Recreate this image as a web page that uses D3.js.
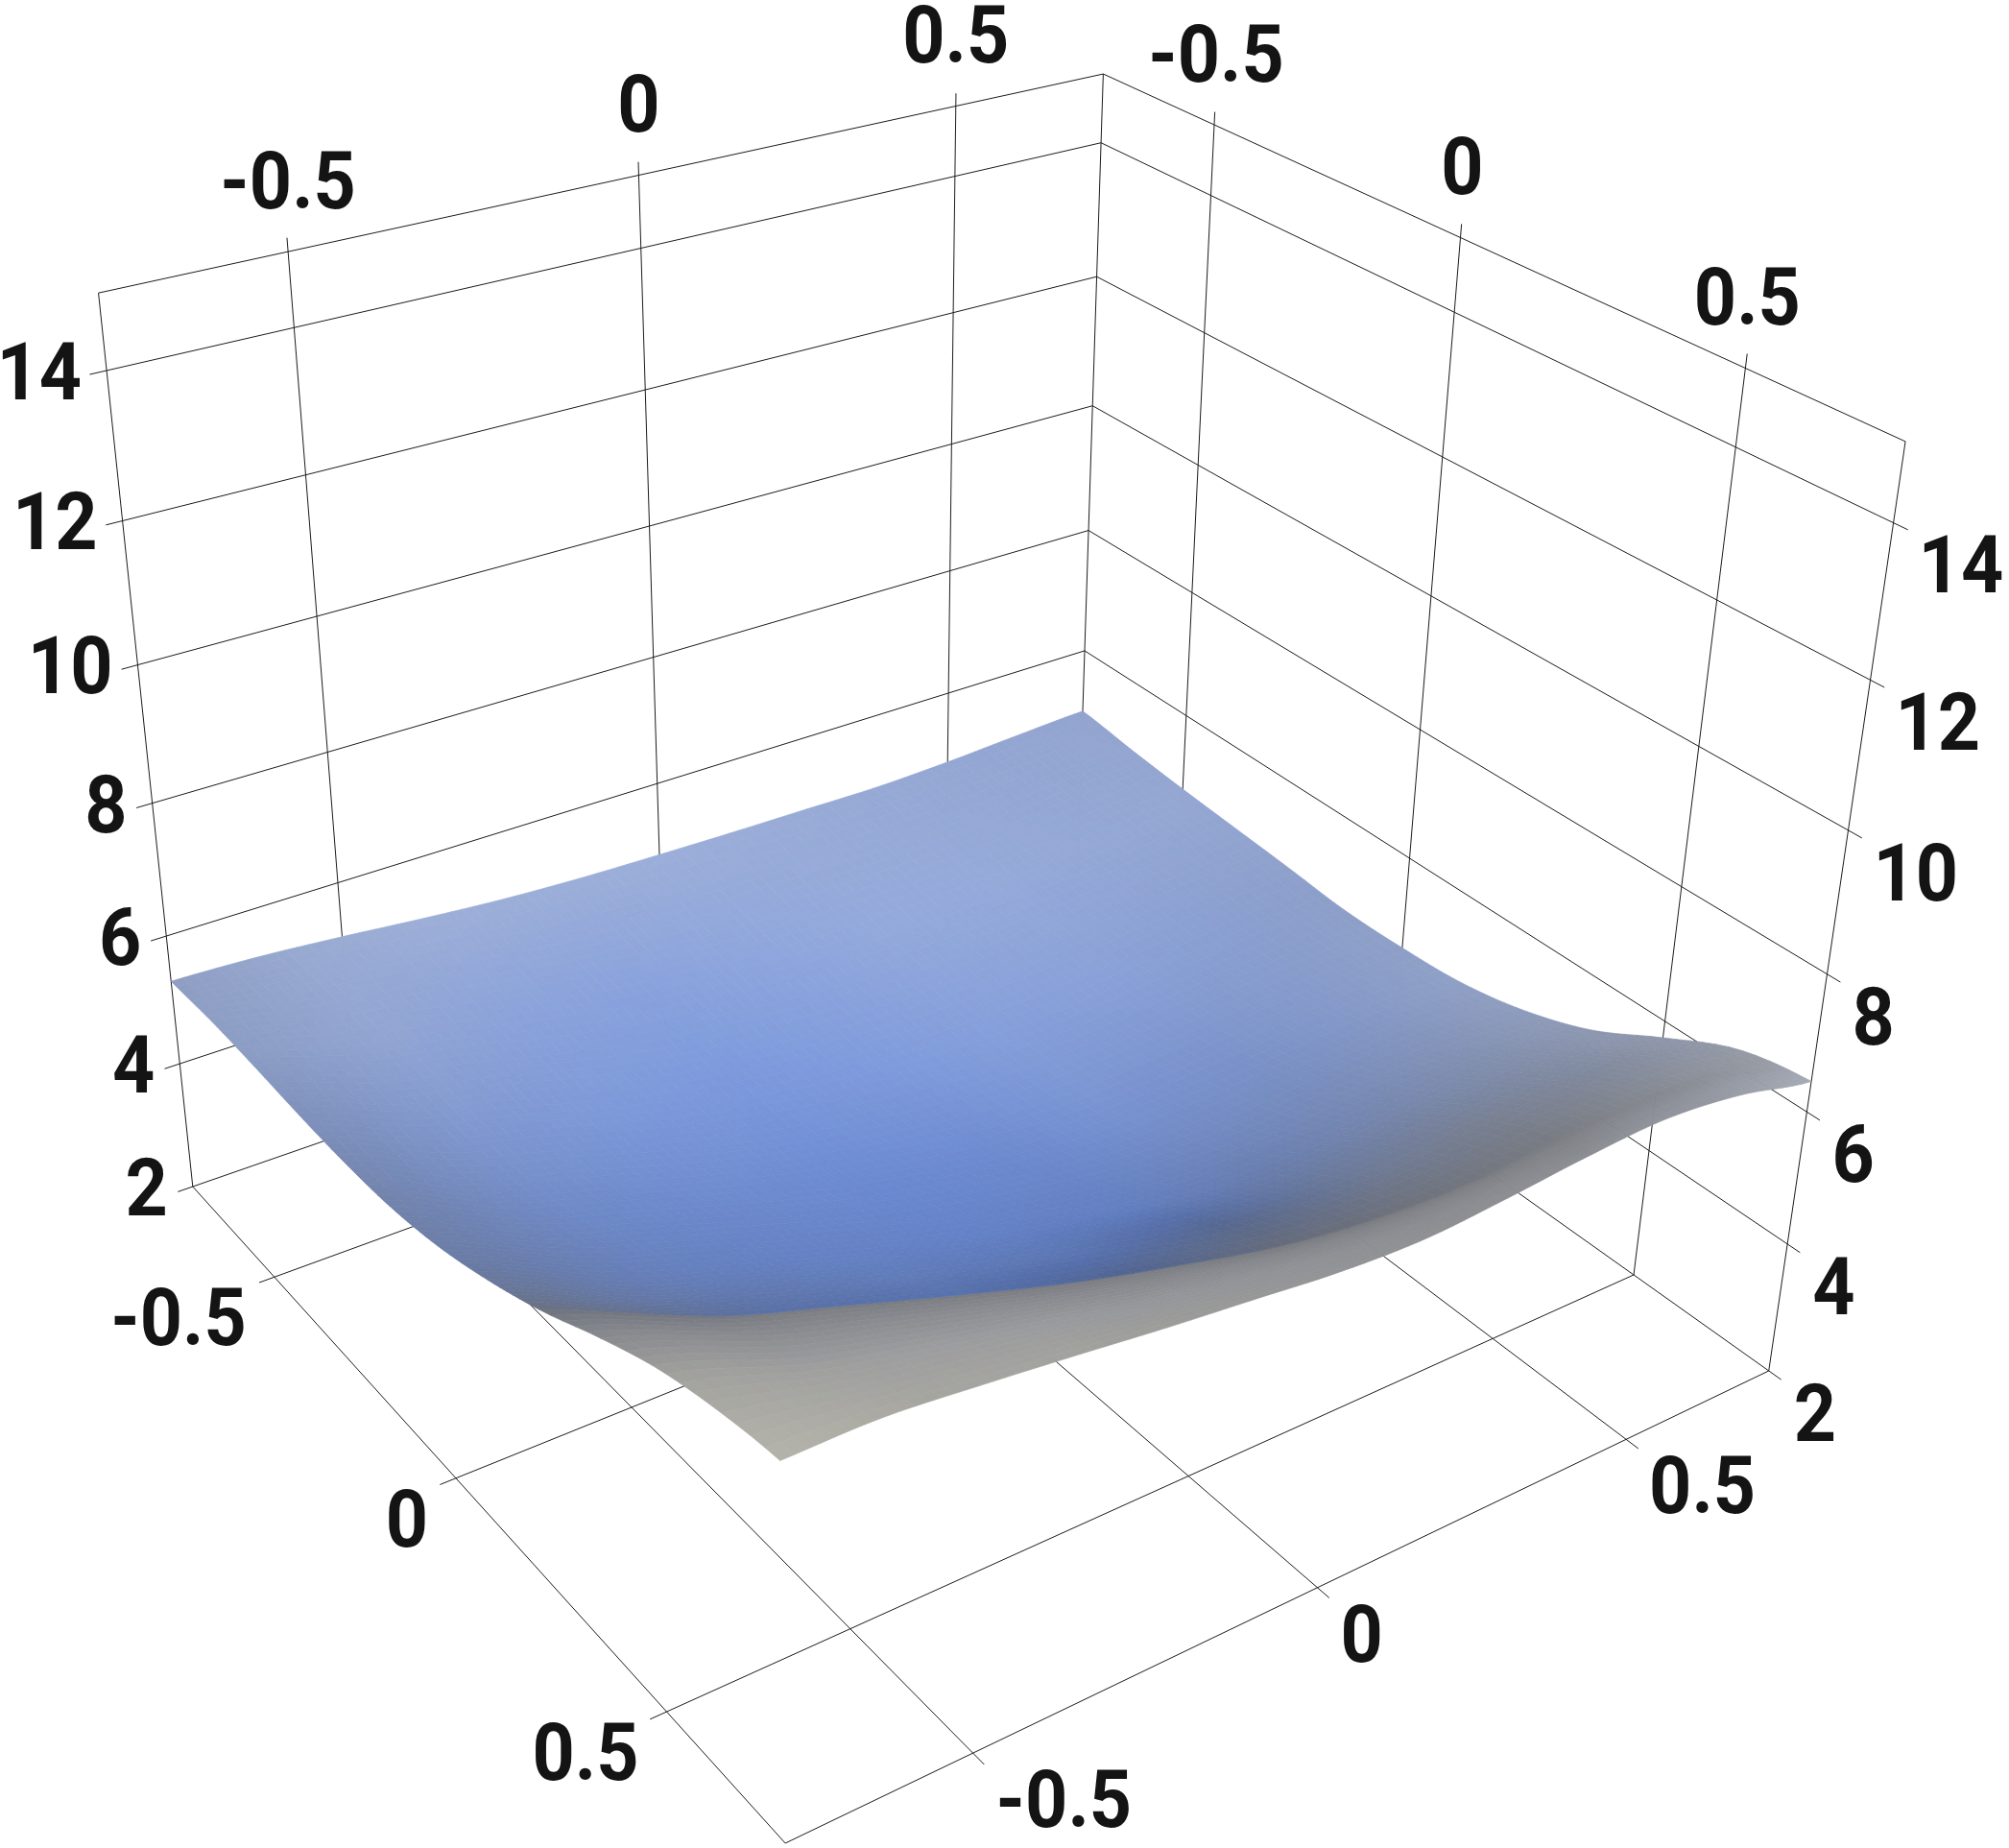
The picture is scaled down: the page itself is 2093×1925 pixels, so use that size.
<!DOCTYPE html>
<html>
<head>
<meta charset="utf-8">
<script src="https://cdn.jsdelivr.net/npm/d3@7"></script>
<style>
  body { margin: 0; background: #fff; }
  text { font-family: Roboto, sans-serif; font-weight: 700; font-size: 84px; fill: #141414; }
</style>
</head>
<body>
<svg id="chart" width="2093" height="1925"></svg>
<script>
var xTicks = [-0.5, 0, 0.5];
var yTicks = [-0.5, 0, 0.5];
var zTicks = [2, 4, 6, 8, 10, 12, 14];
var xyDomain = [-0.75, 0.75];
var zDomain = [2, 15];

// surface height, rows along x, columns along y, step 0.125
var heights = [
  [5.30, 5.25, 5.15, 5.03, 4.93, 4.87, 4.84, 4.82, 4.81, 4.80, 4.84, 4.91, 4.97],
  [5.33, 5.23, 5.13, 4.93, 4.79, 4.73, 4.68, 4.66, 4.66, 4.67, 4.73, 4.80, 4.86],
  [5.31, 5.19, 5.06, 4.84, 4.68, 4.60, 4.53, 4.51, 4.53, 4.56, 4.63, 4.71, 4.77],
  [5.27, 5.12, 4.96, 4.73, 4.56, 4.47, 4.40, 4.37, 4.42, 4.46, 4.55, 4.63, 4.70],
  [5.26, 5.10, 4.92, 4.68, 4.50, 4.39, 4.31, 4.27, 4.34, 4.39, 4.50, 4.57, 4.63],
  [5.31, 5.14, 4.94, 4.69, 4.49, 4.36, 4.27, 4.22, 4.29, 4.36, 4.46, 4.52, 4.55],
  [5.47, 5.32, 5.09, 4.83, 4.62, 4.47, 4.35, 4.29, 4.37, 4.43, 4.53, 4.56, 4.56],
  [5.74, 5.59, 5.35, 5.08, 4.85, 4.68, 4.55, 4.46, 4.54, 4.60, 4.68, 4.68, 4.63],
  [6.09, 5.90, 5.66, 5.39, 5.16, 4.98, 4.84, 4.75, 4.80, 4.87, 4.95, 4.93, 4.84],
  [6.52, 6.39, 6.14, 5.88, 5.65, 5.47, 5.31, 5.22, 5.25, 5.32, 5.39, 5.34, 5.20],
  [6.90, 6.83, 6.62, 6.39, 6.18, 6.01, 5.86, 5.79, 5.84, 5.93, 5.98, 5.92, 5.75],
  [7.15, 7.10, 6.94, 6.77, 6.60, 6.46, 6.32, 6.27, 6.35, 6.45, 6.53, 6.45, 6.25],
  [7.30, 7.30, 7.18, 7.04, 6.89, 6.76, 6.63, 6.58, 6.66, 6.77, 6.83, 6.71, 6.45]
];

// x where the blue side turns over into the grey side, per y column
var foldX = [0.24, 0.42, 0.48, 0.53, 0.58, 0.62, 0.65, 0.67, 0.69, 0.69, 0.69, 0.68, 0.68];

// colour fields: rows run across a side, columns along y (9 columns)
var topRows = [0, 0.2, 0.4, 0.6, 0.8, 0.92, 1];
var topTint = [
  [30, 38, 42, 44, 44, 43, 42, 41, 38],
  [32, 42, 52, 55, 54, 50, 48, 44, 40],
  [30, 46, 54, 58, 57, 54, 50, 44, 36],
  [25, 44, 50, 52, 51, 48, 42, 38, 32],
  [24, 40, 44, 46, 42, 30, 25, 20, 18],
  [18, 32, 38, 36, 25, 15, 10, 13, 12],
  [10, 30, 34, 28, 9, 5, 4, 6, 6]
];
var topShade = [
  [66, 71, 73, 73, 73, 72, 71, 70, 69],
  [66, 70, 70, 70, 71, 72, 72, 71, 70],
  [61, 66, 67, 67, 68, 69, 69, 68, 67],
  [56, 61, 62, 62, 62, 64, 63, 65, 67],
  [53, 57, 58, 58, 57, 55, 57, 59, 62],
  [50, 53, 55, 53, 45, 50, 52, 56, 61],
  [46, 50, 51, 44, 44, 46, 49, 56, 62]
];
var underRows = [0, 0.25, 0.6, 1];
var underTint = [
  [6, 3, 3, 3, 3, 3, 3, 4, 6],
  [3, 3, 3, 3, 3, 3, 3, 5, 8],
  [-2, 1, 2, 3, 3, 3, 3, 6, 10],
  [-6, -3, -2, -1, 2, 2, 4, 6, 10]
];
var underShade = [
  [46, 49, 49, 49, 48, 48, 48, 54, 62],
  [54, 55, 55, 54, 53, 52, 51, 55, 63],
  [63, 62, 61, 59, 57, 55, 53, 58, 66],
  [69, 64, 63, 60, 58, 56, 56, 60, 68]
];

// camera fitted to the box corners, in unit cube coordinates
var camera = [
  452.78813, 1081.93093, -110.88956, 200.80497,
  297.84662, -188.99051, -968.50317, 1236.03160,
  -0.20111, 0.14293, -0.12339
];

var xScale = d3.scaleLinear().domain(xyDomain).range([0, 1]);
var yScale = d3.scaleLinear().domain(xyDomain).range([0, 1]);
var zScale = d3.scaleLinear().domain(zDomain).range([0, 1]);
var satScale = d3.scaleLinear().domain([0, 100]).range([0, 1]);
var lightScale = d3.scaleLinear().domain([0, 100]).range([0, 1]);

function project(x, y, z) {
  var u = xScale(x), v = yScale(y), w = zScale(z), c = camera;
  var d = c[8] * u + c[9] * v + c[10] * w + 1;
  return [
    (c[0] * u + c[1] * v + c[2] * w + c[3]) / d,
    (c[4] * u + c[5] * v + c[6] * w + c[7]) / d
  ];
}

function catmull(a, b, c, d, t) {
  return 0.5 * (2 * b + (c - a) * t + (2 * a - 5 * b + 4 * c - d) * t * t + (3 * b - a - 3 * c + d) * t * t * t);
}

function smooth1d(values, pos) {
  var n = values.length - 1;
  var i = Math.min(n - 1, Math.floor(pos)), t = pos - i;
  var at = function (k) { return values[Math.max(0, Math.min(n, k))]; };
  return catmull(at(i - 1), at(i), at(i + 1), at(i + 2), t);
}

var nodeIndex = d3.scaleLinear().domain(xyDomain).range([0, heights.length - 1]);

function heightAt(x, y) {
  var px = nodeIndex(x), py = nodeIndex(y);
  var n = heights.length - 1;
  var i = Math.min(n - 1, Math.floor(px));
  var col = [i - 1, i, i + 1, i + 2].map(function (k) {
    return smooth1d(heights[Math.max(0, Math.min(n, k))], py);
  });
  return catmull(col[0], col[1], col[2], col[3], px - i);
}

function foldAt(y) {
  return smooth1d(foldX, nodeIndex(y));
}

// bilinear lookup in a colour field
function fieldAt(field, rows, s, y) {
  var r = Math.min(rows.length - 2, d3.bisectRight(rows, s) - 1);
  var t = (s - rows[r]) / (rows[r + 1] - rows[r]);
  var cols = field[0].length - 1;
  var p = yScale(y) * cols, j = Math.min(cols - 1, Math.floor(p)), f = p - j;
  var a = field[r][j] * (1 - f) + field[r][j + 1] * f;
  var b = field[r + 1][j] * (1 - f) + field[r + 1][j + 1] * f;
  return a * (1 - t) + b * t;
}

function toneColor(tint, shade) {
  // negative tint is the warm grey near the front corner
  return d3.hsl(tint < 0 ? 55 : 222, satScale(Math.abs(tint)), lightScale(shade)).formatHex();
}

var svg = d3.select("#chart");
var grid = svg.append("g").attr("fill", "none").attr("stroke", "#1c1c1c").attr("stroke-width", 1);
var lineGen = d3.line();

function gridLine(a, b) {
  grid.append("path").attr("d", lineGen([project(a[0], a[1], a[2]), project(b[0], b[1], b[2])]));
}

var lo = xyDomain[0], hi = xyDomain[1], zLo = zDomain[0], zHi = zDomain[1];
var stub = 0.022, zStub = 0.18;

// box frame
gridLine([lo, lo, zLo], [lo, lo, zHi]);
gridLine([lo, hi, zLo], [lo, hi, zHi]);
gridLine([hi, hi, zLo], [hi, hi, zHi]);
gridLine([lo, lo, zHi], [lo, hi, zHi]);
gridLine([lo, hi, zHi], [hi, hi, zHi]);
gridLine([lo, lo, zLo], [hi, lo, zLo]);
gridLine([hi, lo, zLo], [hi, hi, zLo]);

zTicks.forEach(function (z) {
  gridLine([lo, lo - stub, z], [lo, hi, z]);
  gridLine([lo, hi, z], [hi + stub, hi, z]);
});
yTicks.forEach(function (y) {
  gridLine([lo, y, zLo], [lo, y, zHi + zStub]);
  gridLine([lo, y, zLo], [hi + stub, y, zLo]);
});
xTicks.forEach(function (x) {
  gridLine([x, hi, zLo], [x, hi, zHi + zStub]);
  gridLine([x, lo - stub, zLo], [x, hi, zLo]);
});

// surface, drawn as two sides that meet along the fold
var colsN = 90;
var cells = [];

function addSide(rowsN, xOf, tint, shade, rows) {
  d3.range(rowsN).forEach(function (i) {
    d3.range(colsN).forEach(function (j) {
      var s0 = i / rowsN, s1 = (i + 1) / rowsN;
      var y0 = lo + (hi - lo) * j / colsN, y1 = lo + (hi - lo) * (j + 1) / colsN;
      var corners = [[s0, y0], [s1, y0], [s1, y1], [s0, y1]].map(function (q) {
        var x = xOf(q[0], q[1]);
        return project(x, q[1], heightAt(x, q[1]));
      });
      var sm = (s0 + s1) / 2, ym = (y0 + y1) / 2;
      cells.push({
        corners: corners,
        color: toneColor(fieldAt(tint, rows, sm, ym), fieldAt(shade, rows, sm, ym))
      });
    });
  });
}

addSide(18, function (s, y) { var f = foldAt(y); return f + s * (hi - f); }, underTint, underShade, underRows);
addSide(64, function (s, y) { return lo + s * (foldAt(y) - lo); }, topTint, topShade, topRows);

svg.append("g").selectAll("path")
  .data(cells)
  .join("path")
  .attr("d", function (d) { return lineGen(d.corners) + "Z"; })
  .attr("fill", function (d) { return d.color; })
  .attr("stroke", function (d) { return d.color; })
  .attr("stroke-width", 0.7);

// tick labels, squeezed a little to the narrower digits of the reference
function addLabels(values, pointOf, dx, dy, anchor) {
  svg.append("g").selectAll("text")
    .data(values)
    .join("text")
    .attr("transform", function (d) {
      var p = pointOf(d);
      return "translate(" + (p[0] + dx) + "," + (p[1] + dy) + ") scale(0.92,1)";
    })
    .attr("dy", "0.355em")
    .attr("text-anchor", anchor)
    .text(function (d) { return d; });
}

addLabels(zTicks, function (z) { return project(lo, lo, z); }, -26, 0, "end");
addLabels(zTicks, function (z) { return project(hi, hi, z); }, 26, 43, "start");
addLabels(yTicks, function (y) { return project(lo, y, zHi); }, 0, -75, "middle");
addLabels(xTicks, function (x) { return project(x, hi, zHi); }, 2, -75, "middle");
addLabels(xTicks, function (x) { return project(x, lo, zLo); }, -29, 41, "end");
addLabels(yTicks, function (y) { return project(hi, y, zLo); }, 24, 47, "start");
</script>
</body>
</html>
